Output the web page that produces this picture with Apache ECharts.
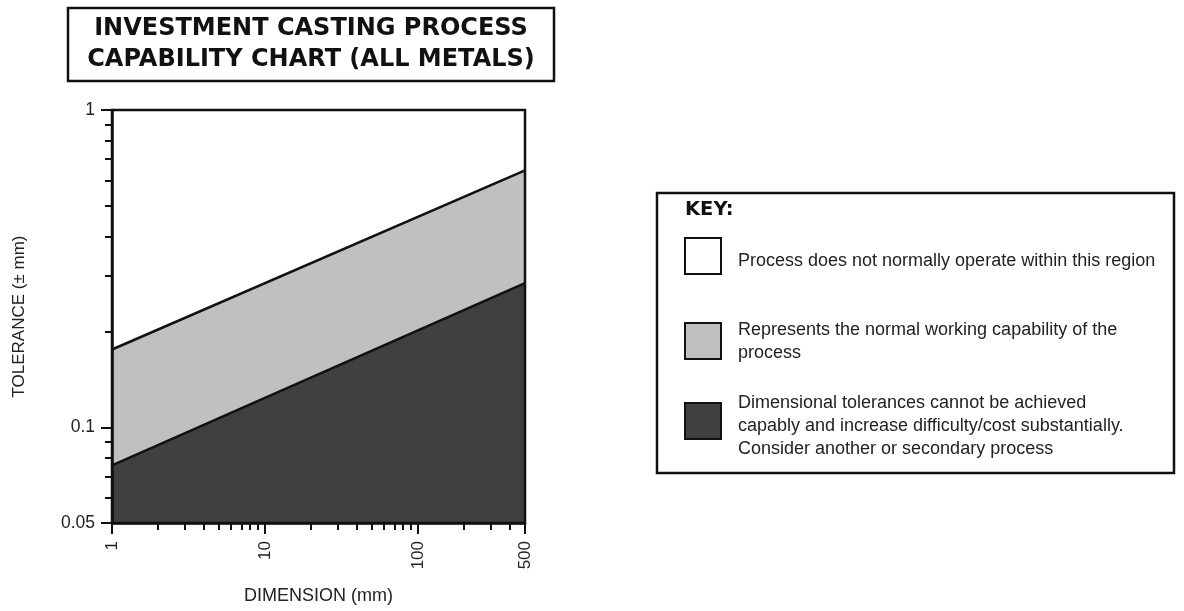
<!DOCTYPE html>
<html>
<head>
<meta charset="utf-8">
<script src="https://cdn.jsdelivr.net/npm/echarts@6/dist/echarts.min.js"></script>
<style>
  html, body { margin: 0; padding: 0; background: #ffffff; }
  #chart { width: 1184px; height: 611px; }
</style>
</head>
<body>
<div id="chart"></div>
<script>
// Tolerance band limits (± mm) against part dimension (mm), log-log
const dimension = [1, 500];
const upperLimit = [0.176, 0.645];   // top of the normal working band
const lowerLimit = [0.076, 0.285];   // below this: not achievable capably

// Axis ranges and tick values
const X_MIN = 1, X_MAX = 500;
const Y_MIN = 0.05, Y_MAX = 1;
const xMajorTicks = [1, 10, 100, 500];
const xMinorTicks = [2, 3, 4, 5, 6, 7, 8, 9, 20, 30, 40, 50, 60, 70, 80, 90, 200, 300, 400];
const yMajorTicks = [0.05, 0.1, 1];
const yMinorTicks = [0.06, 0.07, 0.08, 0.09, 0.2, 0.3, 0.4, 0.5, 0.6, 0.7, 0.8, 0.9];

// Text
const titleText = 'INVESTMENT CASTING PROCESS\nCAPABILITY CHART (ALL METALS)';
const xName = 'DIMENSION (mm)';
const yName = 'TOLERANCE (\u00b1 mm)';
const keyTitle = 'KEY:';
const keyItems = [
  { fill: '#ffffff', text: 'Process does not normally operate within this region' },
  { fill: '#c0c0c0', text: 'Represents the normal working capability of the\nprocess' },
  { fill: '#404040', text: 'Dimensional tolerances cannot be achieved\ncapably and increase difficulty/cost substantially.\nConsider another or secondary process' }
];

const INK = '#111111';
const TEXT = '#222222';
const SANS = '"Liberation Sans", Arial, sans-serif';
const BOLD = '"DejaVu Sans", sans-serif';

const upperData = dimension.map((d, i) => [d, upperLimit[i]]);
const lowerData = dimension.map((d, i) => [d, lowerLimit[i]]);

function logAxis(min, max, extra) {
  return Object.assign({
    type: 'log',
    logBase: 10,
    min: min,
    max: max,
    splitLine: { show: false },
    minorTick: { show: false },
    minorSplitLine: { show: false }
  }, extra);
}

const chart = echarts.init(document.getElementById('chart'), null, { renderer: 'canvas' });

// Key panel on the right
const keyGraphics = [
  {
    type: 'rect',
    shape: { x: 657, y: 193, width: 517, height: 280 },
    style: { fill: '#ffffff', stroke: INK, lineWidth: 2.5 },
    z: 1
  },
  {
    type: 'text',
    style: { text: keyTitle, x: 685, y: 210, font: 'bold 19.5px ' + BOLD, fill: INK, textVerticalAlign: 'middle' },
    z: 2
  }
];
const swatchY = [238, 323, 403];
const textY = [261, 342, 426];
keyItems.forEach((item, i) => {
  keyGraphics.push({
    type: 'rect',
    shape: { x: 685, y: swatchY[i], width: 36, height: 36 },
    style: { fill: item.fill, stroke: INK, lineWidth: 2 },
    z: 2
  });
  keyGraphics.push({
    type: 'text',
    style: {
      text: item.text, x: 738, y: textY[i],
      font: '18px ' + SANS, fill: TEXT, lineHeight: 23,
      textVerticalAlign: 'middle'
    },
    z: 2
  });
});

const option = {
  backgroundColor: '#ffffff',
  animation: false,
  grid: {
    left: 112, top: 110, width: 413, height: 413,
    show: true, backgroundColor: 'transparent',
    borderColor: INK, borderWidth: 2.5, z: 10
  },
  xAxis: [
    logAxis(X_MIN, X_MAX, {
      position: 'bottom',
      name: xName,
      nameLocation: 'middle',
      nameGap: 64,
      nameTextStyle: { fontFamily: SANS, fontSize: 18, color: TEXT },
      axisLine: { show: true, lineStyle: { color: INK, width: 2.5 } },
      axisTick: { show: true, customValues: xMajorTicks, length: 11, lineStyle: { color: INK, width: 2 } },
      axisLabel: {
        customValues: xMajorTicks, rotate: 90, margin: 18,
        fontFamily: SANS, fontSize: 17, color: TEXT,
        formatter: v => String(v)
      },
      z: 10
    }),
    logAxis(X_MIN, X_MAX, {
      position: 'bottom',
      axisLine: { show: false },
      axisTick: { show: true, customValues: xMinorTicks, length: 7, lineStyle: { color: INK, width: 2 } },
      axisLabel: { show: false },
      z: 10
    })
  ],
  yAxis: [
    logAxis(Y_MIN, Y_MAX, {
      position: 'left',
      name: yName,
      nameLocation: 'middle',
      nameGap: 84,
      nameRotate: 90,
      nameTextStyle: { fontFamily: SANS, fontSize: 17, color: TEXT },
      axisLine: { show: true, lineStyle: { color: INK, width: 2.5 } },
      axisTick: { show: true, customValues: yMajorTicks, length: 11, lineStyle: { color: INK, width: 2 } },
      axisLabel: {
        customValues: yMajorTicks, margin: 17,
        fontFamily: SANS, fontSize: 17.5, color: TEXT,
        formatter: v => String(v)
      },
      z: 10
    }),
    logAxis(Y_MIN, Y_MAX, {
      position: 'left',
      axisLine: { show: false },
      axisTick: { show: true, customValues: yMinorTicks, length: 7, lineStyle: { color: INK, width: 2 } },
      axisLabel: { show: false },
      z: 10
    })
  ],
  series: [
    {
      name: 'Normal working capability',
      type: 'line',
      xAxisIndex: 0, yAxisIndex: 0,
      data: upperData,
      symbol: 'none',
      lineStyle: { color: INK, width: 2.5 },
      areaStyle: { color: '#c0c0c0', opacity: 1, origin: Y_MIN },
      z: 2
    },
    {
      name: 'Not achievable capably',
      type: 'line',
      xAxisIndex: 0, yAxisIndex: 0,
      data: lowerData,
      symbol: 'none',
      lineStyle: { color: INK, width: 2.5 },
      areaStyle: { color: '#404040', opacity: 1, origin: Y_MIN },
      z: 3
    }
  ],
  graphic: [
    {
      type: 'rect',
      shape: { x: 68, y: 8, width: 486, height: 73 },
      style: { fill: '#ffffff', stroke: INK, lineWidth: 2.5 }
    },
    {
      type: 'text',
      style: {
        text: titleText, x: 311, y: 44.5,
        font: 'bold 24px ' + BOLD, fill: INK, lineHeight: 31,
        textAlign: 'center', textVerticalAlign: 'middle'
      }
    }
  ].concat(keyGraphics)
};

chart.setOption(option);
</script>
</body>
</html>
